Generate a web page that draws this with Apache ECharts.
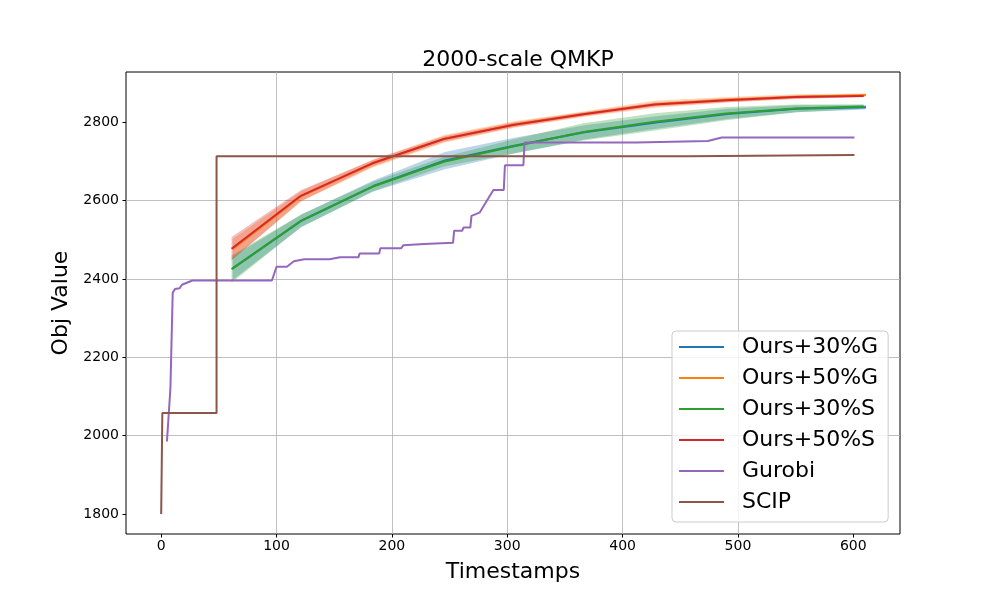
<!DOCTYPE html>
<html><head><meta charset="utf-8">
<script src="https://cdn.jsdelivr.net/npm/echarts@6/dist/echarts.min.js"></script>
<style>html,body{margin:0;padding:0;background:#fff}#c{width:1000px;height:600px}</style>
</head><body><div id="c"></div>
<script>
const xTicks = [0, 100, 200, 300, 400, 500, 600];
const yTicks = [1800, 2000, 2200, 2400, 2600, 2800];

const tG = [62, 122, 184, 246, 306, 367, 429, 491, 551, 611];
const tS = [61, 121, 183, 245, 305, 366, 428, 490, 550, 609];

const ours30G = [2427, 2549, 2637, 2702, 2740, 2774, 2799, 2821, 2834, 2838];
const band30G = [30, 16, 14, 22, 20, 18, 16, 13, 9, 6];
const ours50G = [2476, 2612, 2695, 2758, 2794, 2821, 2846, 2857, 2865, 2869];
const band50G = [26, 13, 10, 10, 8, 7, 9, 7, 6, 4];
const ours30S = [2425, 2548, 2635, 2699, 2738, 2775, 2801, 2822, 2835, 2840];
const band30S = [35, 16, 12, 12, 18, 22, 22, 17, 10, 6];
const ours50S = [2477, 2612, 2695, 2757, 2793, 2820, 2845, 2856, 2864, 2867];
const band50S = [30, 14, 8, 7, 6, 5, 5, 5, 4, 3];

const gurobiT = [5, 8, 10, 12, 16, 18, 27, 96, 100, 109, 115, 124, 146, 155, 171, 172, 189, 190, 208, 210, 228, 253, 254, 261, 262, 268, 269, 276, 281, 288, 297, 298, 314, 315, 412, 413, 474, 486, 601];
const gurobiV = [1985, 2121, 2365, 2374, 2376, 2385, 2396, 2396, 2431, 2431, 2445, 2450, 2450, 2455, 2455, 2465, 2465, 2478, 2478, 2486, 2489, 2492, 2523, 2523, 2531, 2531, 2561, 2569, 2593, 2627, 2627, 2690, 2690, 2748, 2748, 2752, 2752, 2761, 2761];

const scipT = [0, 1, 48, 48, 457, 457, 601];
const scipV = [1800, 2058, 2058, 2713, 2713, 2716, 2716];

const FONT = 'DejaVu Sans';
const C = {b: '#1f77b4', o: '#ff7f0e', g: '#2ca02c', r: '#d62728', p: '#9467bd', s: '#8c564b'};

function zip(t, v) { return t.map((x, i) => [x, v[i]]); }

function bandSeries(key, t, mean, hw, color) {
  return {
    name: key, type: 'custom', silent: true, clip: true, z: 1,
    data: [[t[0], mean[0]]],
    renderItem: function (params, api) {
      if (params.dataIndex !== 0) return;
      const pts = [];
      for (let i = 0; i < t.length; i++) pts.push(api.coord([t[i], mean[i] + hw[i]]));
      for (let i = t.length - 1; i >= 0; i--) pts.push(api.coord([t[i], mean[i] - hw[i]]));
      return {type: 'polygon', shape: {points: pts}, style: {fill: color, opacity: 0.3, stroke: null}};
    }
  };
}
function mainLine(name, t, v, color, z) {
  return {name: name, type: 'line', data: zip(t, v), symbol: 'none', showSymbol: false,
    lineStyle: {color: color, width: 2}, itemStyle: {color: color}, z: z};
}

const series = [
  bandSeries('b30G', tG, ours30G, band30G, C.b),
  mainLine('Ours+30%G', tG, ours30G, C.b, 2),
  bandSeries('b50G', tG, ours50G, band50G, C.o),
  mainLine('Ours+50%G', tG, ours50G, C.o, 2),
  bandSeries('b30S', tS, ours30S, band30S, C.g),
  mainLine('Ours+30%S', tS, ours30S, C.g, 2),
  bandSeries('b50S', tS, ours50S, band50S, C.r),
  mainLine('Ours+50%S', tS, ours50S, C.r, 2),
  mainLine('Gurobi', gurobiT, gurobiV, C.p, 3),
  mainLine('SCIP', scipT, scipV, C.s, 4)
];

const chart = echarts.init(document.getElementById('c'), null, {renderer: 'canvas'});
chart.setOption({
  animation: false,
  backgroundColor: '#ffffff',
  title: {
    text: '2000-scale QMKP', left: 513, top: 44, textAlign: 'center',
    textStyle: {fontFamily: FONT, fontSize: 22, fontWeight: 'normal', color: '#000'}
  },
  grid: {left: 126, right: 100, top: 72, bottom: 66, show: true, borderColor: '#000', borderWidth: 1, backgroundColor: 'transparent'},
  legend: {
    data: ['Ours+30%G', 'Ours+50%G', 'Ours+30%S', 'Ours+50%S', 'Gurobi', 'SCIP'],
    orient: 'vertical', left: 672, top: 331,
    icon: 'rect', itemWidth: 45, itemHeight: 2.2, itemGap: 9,
    padding: [5, 10, 9, 7],
    backgroundColor: 'rgba(255,255,255,0.8)', borderColor: '#cccccc', borderWidth: 1, borderRadius: 4,
    textStyle: {fontFamily: FONT, fontSize: 22, color: '#000', lineHeight: 22, padding: [0, 0, 0, 13]}
  },
  xAxis: {
    type: 'value', min: -30.5, max: 640.5,
    name: 'Timestamps', nameLocation: 'middle', nameGap: 27,
    nameTextStyle: {fontFamily: FONT, fontSize: 22, color: '#000'},
    axisLine: {show: false, onZero: false},
    axisTick: {show: true, inside: false, length: 3.5, customValues: xTicks, lineStyle: {color: '#000', width: 1}},
    axisLabel: {customValues: xTicks, fontFamily: FONT, fontSize: 14, color: '#000', margin: 5,
      formatter: function (v) { return String(v); }},
    splitLine: {show: true, showMinLine: false, showMaxLine: false, lineStyle: {color: '#b0b0b0', width: 0.8}}
  },
  yAxis: {
    type: 'value', min: 1749, max: 2928,
    name: 'Obj Value', nameLocation: 'middle', nameGap: 51, nameRotate: 90,
    nameTextStyle: {fontFamily: FONT, fontSize: 22, color: '#000'},
    axisLine: {show: false, onZero: false},
    axisTick: {show: true, inside: false, length: 3.5, customValues: yTicks, lineStyle: {color: '#000', width: 1}},
    axisLabel: {customValues: yTicks, fontFamily: FONT, fontSize: 14, color: '#000', margin: 7,
      formatter: function (v) { return String(v); }},
    splitLine: {show: true, showMinLine: false, showMaxLine: false, lineStyle: {color: '#b0b0b0', width: 0.8}}
  },
  series: series
});
</script></body></html>
